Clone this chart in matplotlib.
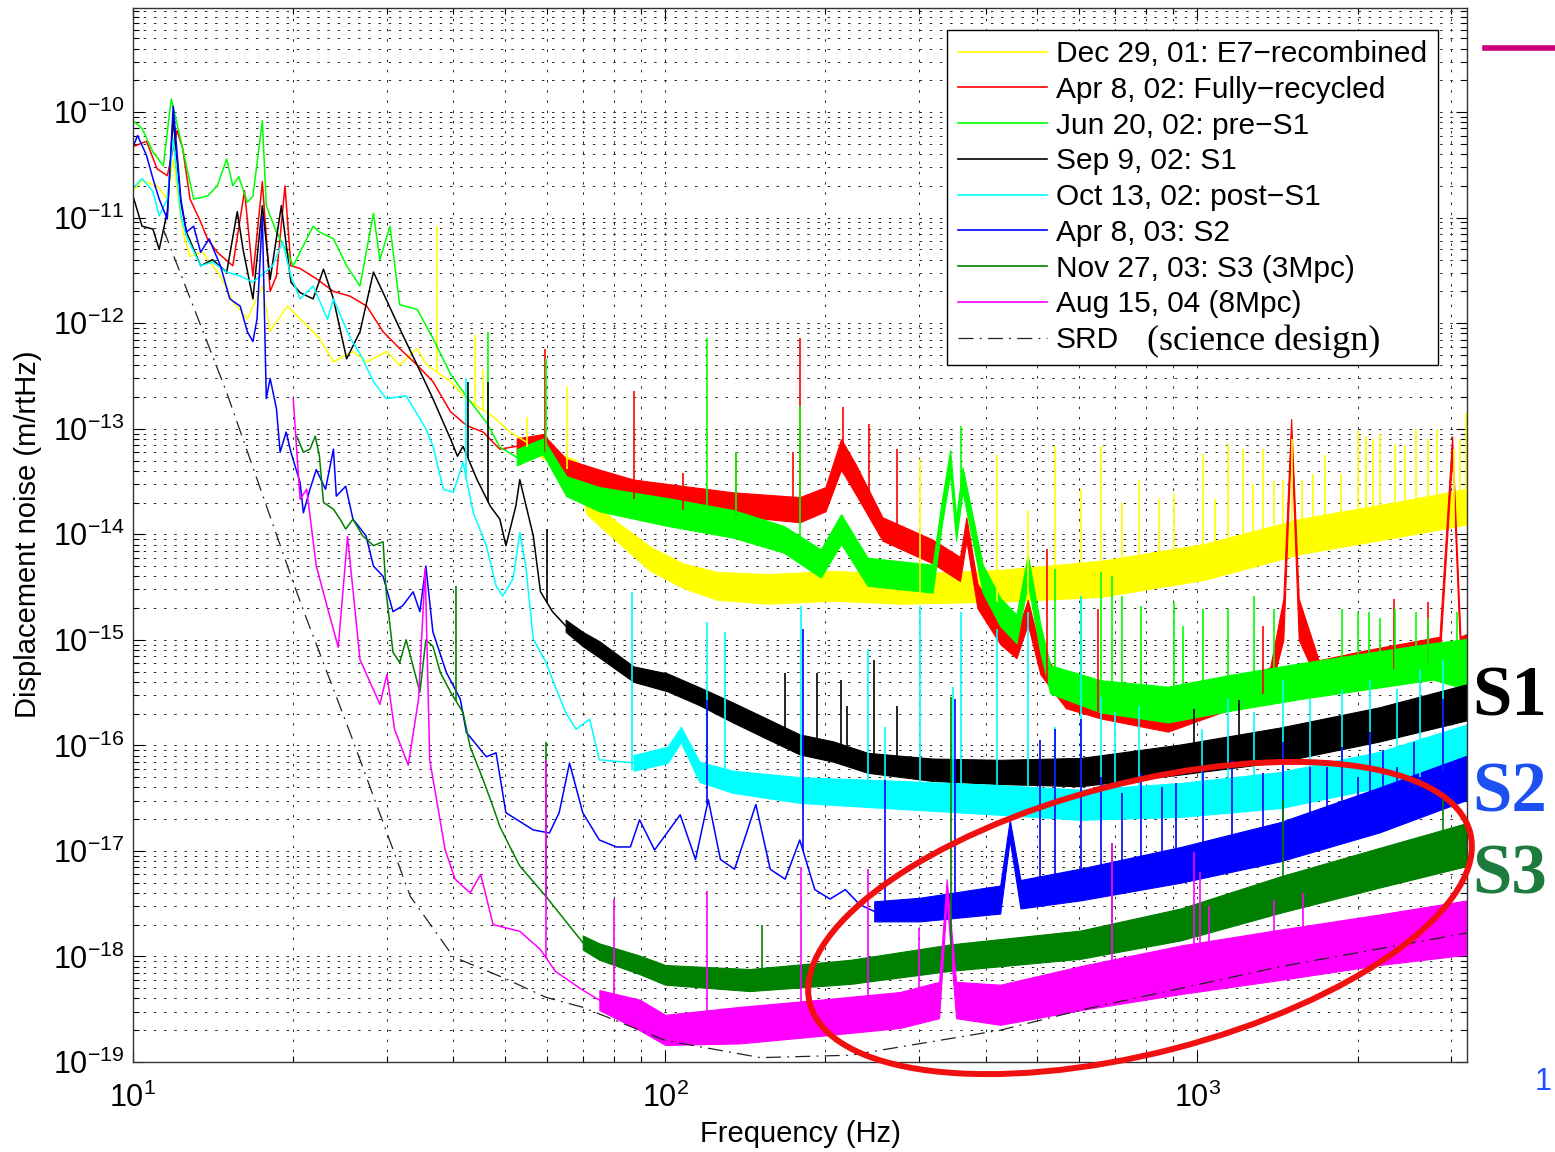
import matplotlib
matplotlib.use("Agg")
import matplotlib.pyplot as plt
from matplotlib.lines import Line2D
from matplotlib.patches import Ellipse
from matplotlib.ticker import LogLocator, NullFormatter, FixedLocator
import numpy as np

# ── Data (Hz, m/rtHz) ────────────────────────────────────────────────────────
# each curve: thin line at low f, noise band (lo/hi) above that, and line spikes

yel_line_f = [10, 10.4, 11.1, 11.6, 11.9, 12.4, 12.8, 13.5, 14.6, 15.4, 16.4, 17.5, 18.1, 19.5, 20.6,
              22.4, 23.8, 25.9, 27.5, 30, 31.7, 34.2, 35.7, 39.5, 42.4, 47.5, 51.1]
yel_line_v = [1.8e-11, 2.25e-11, 2.0e-11, 1.5e-11, 3.6e-11, 7.3e-12, 4.3e-12, 4.7e-12, 2.8e-12, 1.6e-12,
              1.1e-12, 2.25e-12, 8.4e-13, 1.45e-12, 1.1e-12, 7.2e-13, 4.3e-13, 5.4e-13, 4.3e-13, 5.4e-13,
              4.0e-13, 5.75e-13, 4.0e-13, 2.8e-13, 1.9e-13, 1.3e-13, 9.3e-14]
yel_band_f = [54.9, 60.6, 68.2, 71.2, 81.3, 93.8, 108, 125, 156, 207, 276, 426, 658, 1030, 1560, 2400, 3210]
yel_band_hi = [8.3e-14, 6.3e-14, 5.0e-14, 2.2e-14, 1.3e-14, 7.6e-15, 5.3e-15, 4.4e-15, 4.2e-15, 4.5e-15,
               4.2e-15, 4.6e-15, 5.6e-15, 8.1e-15, 1.4e-14, 2.05e-14, 2.7e-14]
yel_band_lo = [6.7e-14, 4.8e-14, 3.9e-14, 1.55e-14, 8.5e-15, 4.5e-15, 3.1e-15, 2.4e-15, 2.2e-15, 2.35e-15,
               2.2e-15, 2.3e-15, 2.55e-15, 3.7e-15, 6.5e-15, 9.5e-15, 1.24e-14]
yel_spike_f = [37.2, 44, 45.5, 54.9, 65.5, 301, 420, 481, 540, 603, 659, 720, 778, 846, 905, 1026, 1081,
               1140, 1216, 1270, 1330, 1390, 1450, 1505, 1575, 1650, 1740, 1860, 2000, 2070, 2140, 2200,
               2350, 2450, 2570, 2710, 2820, 3030, 3120, 3190]
yel_spike_v = [8.3e-12, 7.7e-13, 3.7e-13, 1.3e-13, 2.5e-13, 5.2e-14, 5.6e-14, 1.7e-14, 6.9e-14, 2.7e-14,
               6.9e-14, 2.0e-14, 3.3e-14, 2.15e-14, 2.4e-14, 5.75e-14, 2.15e-14, 7.2e-14, 6.4e-14, 3.0e-14,
               6.4e-14, 3.2e-14, 3.3e-14, 8.0e-14, 3.3e-14, 3.7e-14, 5.6e-14, 3.7e-14, 9.5e-14, 8.5e-14,
               8.0e-14, 9.0e-14, 7.2e-14, 6.9e-14, 1.0e-13, 8.0e-14, 1.0e-13, 6.4e-14, 8.0e-14, 1.4e-13]

red_line_f = [10, 10.6, 11.1, 11.6, 12.1, 12.4, 12.8, 13.4, 13.8, 14.4, 15.4, 16.2, 16.8, 17.5, 18.1,
              18.6, 19.3, 19.8, 20.6, 22.2, 23.8, 25.6, 27.5, 29.5, 31.7, 34.2, 36.6, 39.5, 42.4, 45.5, 48.9]
red_line_v = [4.7e-11, 5.3e-11, 2.9e-11, 2.5e-11, 6.7e-11, 4.5e-11, 1.5e-11, 9.1e-12, 6.3e-12, 4.7e-12,
              3.5e-12, 1.8e-11, 2.8e-12, 2.2e-11, 2.0e-12, 2.8e-12, 2.0e-11, 3.5e-12, 3.3e-12, 2.6e-12,
              2.0e-12, 1.8e-12, 1.45e-12, 8.3e-13, 5.75e-13, 4.0e-13, 2.8e-13, 1.45e-13, 1.07e-13, 9.3e-14, 6.4e-14]
red_band_f = [52.6, 58.9, 65.2, 75.2, 87.2, 101, 134, 179, 200, 214, 228, 256, 318, 358, 368, 386, 426,
              457, 480, 507, 566, 658, 880, 1166, 1370, 1450, 1500, 1550, 1690, 2080, 2850, 3010, 3120, 3210]
red_band_hi = [8.1e-14, 8.9e-14, 5.15e-14, 4.1e-14, 3.3e-14, 3.0e-14, 2.5e-14, 2.25e-14, 2.8e-14, 8.0e-14,
               4.6e-14, 1.45e-14, 8.9e-15, 6.1e-15, 1.45e-14, 3.4e-15, 1.55e-15, 1.14e-15, 2.4e-15, 8.0e-16,
               3.8e-16, 3.05e-16, 2.3e-16, 3.8e-16, 5.5e-16, 2.45e-15, 1.24e-13, 2.45e-15, 6.4e-16, 8.0e-16,
               1.07e-15, 8.5e-14, 1.07e-15, 1.14e-15]
red_band_lo = [5.75e-14, 6.3e-14, 3.3e-14, 2.7e-14, 2.15e-14, 1.75e-14, 1.5e-14, 1.3e-14, 1.65e-14, 4.1e-14,
               2.4e-14, 8.7e-15, 5.3e-15, 3.6e-15, 8.7e-15, 2.0e-15, 9.1e-16, 6.7e-16, 1.4e-15, 4.7e-16,
               2.25e-16, 1.8e-16, 1.35e-16, 2.25e-16, 3.25e-16, 1.0e-15, 8.0e-14, 1.0e-15, 3.8e-16, 4.7e-16,
               6.3e-16, 5.5e-14, 6.3e-16, 6.7e-16]
red_spike_f = [59.4, 87.2, 108, 136, 174, 179, 216, 241, 273, 522, 650, 1330, 2340, 2710]
red_spike_v = [5.75e-13, 2.3e-13, 3.8e-14, 6.0e-14, 6.0e-14, 7.2e-13, 1.6e-13, 1.12e-13, 6.4e-14, 7.3e-15,
               1.95e-15, 1.35e-15, 2.45e-15, 2.3e-15]

grn_line_f = [10, 10.4, 10.9, 11.4, 11.8, 12.4, 13.0, 13.8, 14.4, 15.0, 15.4, 15.8, 16.4, 16.8, 17.5,
              17.8, 18.6, 19.5, 20, 21.8, 22.4, 23.8, 25.2, 26.7, 28.3, 29.1, 30.4, 31.7, 34.2, 36.6,
              39.5, 42.4, 46.3, 48.9]
grn_line_v = [8.3e-11, 7.0e-11, 4.2e-11, 3.1e-11, 1.33e-10, 4.5e-11, 1.5e-11, 1.6e-11, 2.0e-11, 3.6e-11,
              2.0e-11, 2.45e-11, 1.4e-11, 1.6e-11, 8.3e-11, 1.3e-11, 7.3e-12, 4.7e-12, 3.5e-12, 8.3e-12,
              7.3e-12, 6.3e-12, 3.5e-12, 2.25e-12, 1.1e-11, 4.0e-12, 8.3e-12, 1.5e-12, 1.35e-12, 7.2e-13,
              3.3e-13, 2.0e-13, 1.12e-13, 6.7e-14]
grn_band_f = [52.6, 58.9, 65.2, 75.2, 101, 134, 167, 196, 214, 240, 318, 331, 343, 352, 362, 395, 426,
              457, 480, 507, 529, 658, 880, 1166, 1560, 2080, 2770, 3210]
grn_band_hi = [6.4e-14, 8.1e-14, 3.55e-14, 2.8e-14, 2.2e-14, 1.7e-14, 1.2e-14, 7.2e-15, 1.55e-14, 6.0e-15,
               5.15e-15, 2.1e-14, 6.3e-14, 1.45e-14, 4.3e-14, 5.15e-15, 2.5e-15, 1.73e-15, 6.4e-15, 1.39e-15,
               5.75e-16, 4.14e-16, 3.6e-16, 4.7e-16, 6.0e-16, 7.5e-16, 9.3e-16, 1.02e-15]
grn_band_lo = [4.5e-14, 5.75e-14, 2.3e-14, 1.65e-14, 1.2e-14, 9.3e-15, 6.7e-15, 3.9e-15, 8.1e-15, 3.25e-15,
               2.8e-15, 1.24e-14, 3.7e-14, 8.7e-15, 2.55e-14, 2.8e-15, 1.35e-15, 9.3e-16, 3.45e-15, 7.5e-16,
               3.1e-16, 2.05e-16, 1.65e-16, 2.15e-16, 2.75e-16, 3.4e-16, 4.2e-16, 3.4e-16]
grn_spike_f = [46.5, 59.7, 120, 136, 179, 360, 540, 603, 659, 690, 720, 785, 905, 940, 1026, 1140, 1278,
               1393, 1870, 2000, 2100, 2200, 2350, 2570, 2710, 3080]
grn_spike_v = [8.3e-13, 4.6e-13, 7.2e-13, 6.0e-14, 1.65e-13, 1.07e-13, 4.7e-15, 2.6e-15, 4.4e-15, 4.0e-15,
               2.6e-15, 2.1e-15, 2.3e-15, 1.35e-15, 1.95e-15, 1.95e-15, 2.6e-15, 1.95e-15, 1.95e-15, 1.85e-15,
               1.85e-15, 1.6e-15, 1.95e-15, 1.85e-15, 1.6e-15, 1.85e-15]

blk_line_f = [10, 10.4, 10.9, 11.2, 11.6, 11.9, 12.3, 12.6, 13.4, 14.1, 15.0, 15.7, 16.1, 16.8, 17.5,
              18.1, 19.0, 19.8, 20.6, 21.8, 22.8, 23.8, 25.2, 26.7, 28.3, 29.5, 31.7, 34.2, 36.6, 39.5,
              40.7, 41.7, 44.3, 46.9, 48.9, 50.2, 52.4, 53.3, 56.5, 58.3, 61.4]
blk_line_v = [1.6e-11, 8.3e-12, 7.8e-12, 5.0e-12, 1.14e-11, 8.7e-11, 1.4e-11, 7.3e-12, 3.5e-12, 4.0e-12,
              3.05e-12, 1.14e-11, 5.0e-12, 1.7e-12, 1.3e-11, 2.6e-12, 1.3e-11, 2.45e-12, 1.95e-12, 1.7e-12,
              3.25e-12, 1.7e-12, 4.6e-13, 8.3e-13, 3.05e-12, 1.95e-12, 8.9e-13, 4.0e-13, 1.93e-13, 8.0e-14,
              5.5e-14, 6.8e-14, 3.3e-14, 1.85e-14, 1.39e-14, 7.8e-15, 1.85e-14, 3.3e-14, 9.7e-15, 2.85e-15,
              1.85e-15]
blk_band_f = [65, 70, 75.2, 87.2, 101, 116, 134, 156, 179, 207, 240, 318, 426, 603, 930, 1434, 2200, 3210]
blk_band_hi = [1.55e-15, 1.19e-15, 9.7e-16, 5.6e-16, 4.8e-16, 3.55e-16, 2.55e-16, 1.77e-16, 1.27e-16,
               1.09e-16, 8.5e-17, 7.5e-17, 7.3e-17, 7.6e-17, 1.02e-16, 1.48e-16, 2.3e-16, 3.8e-16]
blk_band_lo = [1.19e-15, 8.7e-16, 6.8e-16, 4.0e-16, 3.25e-16, 2.4e-16, 1.65e-16, 1.14e-16, 8.2e-17,
               7.0e-17, 5.5e-17, 4.6e-17, 4.3e-17, 4.1e-17, 5.3e-17, 7.0e-17, 1.09e-16, 1.73e-16]
blk_spike_f = [42.6, 46.5, 60, 168, 193, 214, 220, 247, 273, 985, 1195]
blk_spike_v = [2.8e-13, 2.8e-13, 1.12e-14, 4.9e-16, 4.9e-16, 4.2e-16, 2.35e-16, 6.5e-16, 2.35e-16,
               2.2e-16, 2.7e-16]

cyn_line_f = [10, 10.4, 10.9, 11.2, 11.6, 11.9, 12.3, 12.6, 13.4, 14.1, 15.0, 15.9, 16.8, 18.3, 19.1,
              19.8, 20.6, 21.8, 23.2, 23.8, 25.6, 26.7, 28.3, 29.9, 32.6, 35.5, 36.6, 38.3, 40, 41.7,
              43.6, 46.1, 48.1, 49.5, 51.8, 53.3, 54.7, 56.5, 59.7, 61.4, 65, 68, 72.1, 75.2]
cyn_line_v = [1.9e-11, 2.35e-11, 1.77e-11, 1.04e-11, 1.5e-11, 5.6e-11, 1.04e-11, 6.7e-12, 3.5e-12, 3.8e-12,
              3.05e-12, 2.8e-12, 2.45e-12, 3.5e-12, 5.9e-12, 2.8e-12, 1.7e-12, 2.25e-12, 1.09e-12, 1.7e-12,
              7.2e-13, 5.15e-13, 2.8e-13, 1.93e-13, 2.05e-13, 1.0e-13, 6.9e-14, 2.67e-14, 2.5e-14, 4.8e-14,
              1.6e-14, 7.8e-15, 3.25e-15, 2.6e-15, 3.8e-15, 1.04e-14, 5.0e-15, 1.02e-15, 6.1e-16, 4.2e-16,
              2.05e-16, 1.42e-16, 1.77e-16, 7.3e-17]
cyn_band_f = [87.2, 101, 107, 116, 134, 179, 276, 426, 603, 930, 1434, 2200, 3210]
cyn_band_hi = [8.1e-17, 9.7e-17, 1.5e-16, 7.0e-17, 5.75e-17, 5.0e-17, 4.6e-17, 4.2e-17, 3.8e-17, 4.4e-17,
               5.6e-17, 8.7e-17, 1.58e-16]
cyn_band_lo = [5.75e-17, 6.8e-17, 1.07e-16, 4.5e-17, 3.55e-17, 2.85e-17, 2.5e-17, 2.2e-17, 1.97e-17,
               2.1e-17, 2.55e-17, 4.0e-17, 6.5e-17]
cyn_spike_f = [42.3, 86.5, 120, 129.5, 180, 240, 259, 301, 347, 360, 420, 481, 540, 603, 659, 700, 778,
               1020, 1140, 1278, 1450, 1630, 1870, 2110, 2370, 2620, 2890]
cyn_spike_v = [3.0e-13, 2.85e-15, 1.48e-15, 1.19e-15, 2.1e-15, 8.2e-16, 1.5e-16, 2.1e-15, 3.6e-16, 1.85e-15,
               1.27e-15, 1.85e-15, 1.5e-16, 2.6e-15, 2.9e-16, 2.05e-16, 2.35e-16, 1.42e-16, 2.75e-16,
               2.05e-16, 4.2e-16, 2.75e-16, 3.4e-16, 4.2e-16, 3.4e-16, 5.3e-16, 6.5e-16]

blu_line_f = [10, 10.2, 10.6, 10.9, 11.2, 11.6, 11.9, 12.3, 12.6, 13.0, 13.4, 13.9, 14.6, 15.2, 15.9,
              16.4, 16.8, 17.1, 17.5, 17.8, 18.1, 18.6, 18.9, 19.4, 19.8, 20.6, 20.9, 21.5, 22.1, 23,
              23.8, 24.1, 25.1, 25.9, 27.4, 28.3, 29.5, 30.8, 32.1, 33.6, 34.6, 35.5, 36.6, 38.8, 41.2,
              42.3, 46.1, 48.1, 50.2, 56.5, 60.6, 63.2, 66.1, 70, 75.2, 81, 86, 89.5, 95.5, 106.7,
              114, 120.5, 127, 135, 148, 157.5, 168, 179, 191, 204, 218, 232]
blu_line_v = [4.7e-11, 6.0e-11, 3.9e-11, 2.35e-11, 1.5e-11, 9.7e-12, 1.14e-10, 1.5e-11, 7.3e-12, 8.3e-12,
              4.7e-12, 6.3e-12, 3.5e-12, 1.7e-12, 1.45e-12, 8.3e-13, 6.7e-13, 1.09e-12, 1.04e-11, 1.93e-13,
              3.0e-13, 1.55e-13, 6.0e-14, 9.3e-14, 6.0e-14, 3.1e-14, 1.6e-14, 2.67e-14, 4.1e-14, 2.67e-14,
              6.4e-14, 2.3e-14, 2.85e-14, 1.39e-14, 9.7e-15, 5.0e-15, 4.0e-15, 1.85e-15, 2.1e-15, 2.85e-15,
              1.85e-15, 5.0e-15, 1.19e-15, 4.9e-16, 2.75e-16, 1.33e-16, 7.8e-17, 8.5e-17, 2.3e-17, 1.58e-17,
              1.48e-17, 2.3e-17, 6.8e-17, 2.3e-17, 1.27e-17, 1.09e-17, 1.09e-17, 1.97e-17, 1.02e-17, 2.2e-17,
              8.3e-18, 3.05e-17, 8.3e-18, 6.7e-18, 2.75e-17, 6.7e-18, 5.4e-18, 1.27e-17, 4.3e-18, 3.5e-18,
              4.3e-18, 3.1e-18]
blu_band_f = [247, 301, 426, 444, 465, 603, 930, 1434, 2200, 3210]
blu_band_hi = [3.33e-18, 3.6e-18, 4.7e-18, 1.97e-17, 5.3e-18, 6.8e-18, 1.09e-17, 1.88e-17, 4.0e-17, 8.0e-17]
blu_band_lo = [2.15e-18, 2.15e-18, 2.55e-18, 1.27e-17, 2.85e-18, 3.4e-18, 5.0e-18, 8.0e-18, 1.5e-17, 3.05e-17]
blu_spike_f = [120, 181.6, 259, 350, 507, 540, 603, 659, 723, 785, 859, 912, 1026, 1160, 1330, 1450,
               1630, 1750, 1870, 2000, 2110, 2230, 2370, 2550, 2890]
blu_spike_v = [2.7e-16, 1.27e-15, 4.7e-17, 2.75e-16, 1.13e-16, 1.42e-16, 1.77e-16, 5.0e-17, 3.55e-17,
               5.5e-17, 4.0e-17, 4.4e-17, 6.3e-17, 7.3e-17, 5.5e-17, 1.07e-16, 6.3e-17, 6.3e-17, 9.7e-17,
               5.0e-17, 1.33e-16, 9.1e-17, 6.3e-17, 1.07e-16, 2.75e-16]

dkg_line_f = [20.3, 20.9, 21.5, 22, 22.4, 22.8, 23.8, 24.5, 25.1, 25.9, 27, 28.3, 29.5, 29.9, 30.8,
              31.7, 32.6, 33.6, 34.6, 35.5, 36.6, 37.8, 39.5, 41.7, 43, 45.5, 47.5, 48.9, 51.1, 53.3, 59.7]
dkg_line_v = [8.5e-14, 6.0e-14, 6.4e-14, 8.5e-14, 5.5e-14, 2.0e-14, 1.73e-14, 1.39e-14, 1.12e-14, 1.39e-14,
              9.7e-15, 7.8e-15, 8.5e-15, 2.85e-15, 7.6e-16, 6.1e-16, 1.0e-15, 5.6e-16, 3.2e-16, 1.0e-15,
              8.7e-16, 4.9e-16, 3.2e-16, 2.05e-16, 9.7e-17, 4.7e-17, 2.6e-17, 1.7e-17, 1.09e-17, 7.2e-18, 3.7e-18]
dkg_band_f = [70, 75.2, 89.5, 100, 144, 223, 343, 603, 930, 1434, 2200, 3210]
dkg_band_hi = [1.58e-18, 1.33e-18, 1.02e-18, 8.3e-19, 7.6e-19, 9.3e-19, 1.3e-18, 1.76e-18, 2.85e-18,
               5.75e-18, 1.07e-17, 1.84e-17]
dkg_band_lo = [1.16e-18, 9.3e-19, 6.8e-19, 5.4e-19, 4.7e-19, 5.5e-19, 7.3e-19, 9.5e-19, 1.42e-18,
               2.6e-18, 4.5e-18, 7.2e-18]
dkg_spike_f = [40.5, 59.7, 152, 345, 690, 1447, 2890]
dkg_spike_v = [3.25e-15, 1.07e-16, 2.0e-18, 2.9e-16, 1.19e-17, 3.05e-17, 3.05e-17]

mag_line_f = [20, 20.6, 21.2, 22.1, 23.5, 24.3, 25.3, 26.7, 29.1, 30, 31.0, 32.9, 34.4, 35.4, 36.1,
              38.6, 40.3, 43, 45, 47.5, 53.3, 58.3, 62.2, 70]
mag_line_v = [1.93e-13, 2.15e-14, 2.67e-14, 5.0e-15, 1.58e-15, 8.5e-16, 9.5e-15, 6.5e-16, 2.45e-16, 4.7e-16,
              1.42e-16, 6.5e-17, 2.75e-16, 4.7e-15, 7.3e-17, 1.02e-17, 5.4e-18, 4.0e-18, 6.0e-18, 2.0e-18,
              1.73e-18, 1.16e-18, 7.2e-19, 4.8e-19]
mag_band_f = [75.2, 89.5, 100, 138, 196, 276, 327, 338, 352, 426, 603, 930, 1434, 2200, 3210]
mag_band_hi = [4.8e-19, 3.9e-19, 2.8e-19, 3.33e-19, 3.9e-19, 4.6e-19, 5.75e-19, 5.4e-18, 5.75e-19, 5.4e-19,
               8.1e-19, 1.27e-18, 1.8e-18, 2.5e-18, 3.4e-18]
mag_band_lo = [3.1e-19, 2.0e-19, 1.45e-19, 1.5e-19, 1.77e-19, 2.1e-19, 2.6e-19, 3.45e-18, 2.6e-19, 2.25e-19,
               3.1e-19, 4.4e-19, 6.0e-19, 8.3e-19, 1.04e-18]
mag_spike_f = [59.7, 80, 120, 180, 240, 300, 690, 985, 1010, 1050, 1390, 1580]
mag_spike_v = [7.3e-17, 3.5e-18, 4.2e-18, 7.0e-18, 6.7e-18, 1.85e-18, 1.19e-17, 9.7e-18, 6.3e-18, 3.0e-18,
               3.45e-18, 4.0e-18]

srd_f = [11.4, 15, 20, 20.9, 25.6, 33.2, 40, 49.6, 59.7, 70, 100, 151, 223, 426, 603, 1430, 3210]
srd_v = [7.8e-12, 2.2e-13, 3.5e-15, 1.9e-15, 1.3e-16, 3.7e-18, 9.9e-19, 6.3e-19, 4.1e-19, 3.3e-19,
         1.6e-19, 1.1e-19, 1.16e-19, 2.0e-19, 3.1e-19, 8.0e-19, 1.67e-18]

labels = ["Dec 29, 01: E7\u2212recombined", "Apr 8, 02: Fully\u2212recycled", "Jun 20, 02: pre\u2212S1",
          "Sep 9, 02: S1", "Oct 13, 02: post\u2212S1", "Apr 8, 03: S2", "Nov 27, 03: S3 (3Mpc)",
          "Aug 15, 04 (8Mpc)", "SRD"]

x_ticks = [10, 100, 1000]
y_ticks = [1e-19, 1e-18, 1e-17, 1e-16, 1e-15, 1e-14, 1e-13, 1e-12, 1e-11, 1e-10]

# ── Style ────────────────────────────────────────────────────────────────────
plt.rcParams.update({
    "font.family": ["Liberation Sans", "DejaVu Sans"],
    "mathtext.fontset": "custom",
    "mathtext.rm": "Liberation Sans",
    "mathtext.it": "Liberation Sans:italic",
    "mathtext.bf": "Liberation Sans:bold",
})

fig = plt.figure(figsize=(15.55, 11.52), dpi=100)
ax = fig.add_axes([133 / 1555, 1 - 1062 / 1152, 1334 / 1555, 1054.5 / 1152])
ax.set_xscale("log")
ax.set_yscale("log")


def draw_curve(color, line_f, line_v, band_f, band_lo, band_hi, spike_f, spike_v):
    lf, lv = np.array(line_f), np.array(line_v)
    bf, blo, bhi = np.array(band_f), np.array(band_lo), np.array(band_hi)
    mid = np.sqrt(blo[0] * bhi[0])
    ax.plot(np.r_[lf, bf[0]], np.r_[lv, mid], color=color, lw=1.1)
    ax.fill_between(bf, blo, bhi, facecolor=color, edgecolor=color, lw=0.8)
    # spikes rise from the lower edge of the curve
    all_f = np.log10(np.r_[lf, bf])
    all_lo = np.log10(np.r_[lv, blo])
    base = 10 ** np.interp(np.log10(spike_f), all_f, all_lo)
    ax.vlines(spike_f, base, spike_v, color=color, lw=1.2)


colors = ["#ffff00", "#ff0000", "#00ff00", "#000000", "#00ffff", "#0000ff", "#008000", "#ff00ff"]

draw_curve(colors[0], yel_line_f, yel_line_v, yel_band_f, yel_band_lo, yel_band_hi, yel_spike_f, yel_spike_v)
draw_curve(colors[1], red_line_f, red_line_v, red_band_f, red_band_lo, red_band_hi, red_spike_f, red_spike_v)
draw_curve(colors[2], grn_line_f, grn_line_v, grn_band_f, grn_band_lo, grn_band_hi, grn_spike_f, grn_spike_v)
draw_curve(colors[3], blk_line_f, blk_line_v, blk_band_f, blk_band_lo, blk_band_hi, blk_spike_f, blk_spike_v)
draw_curve(colors[4], cyn_line_f, cyn_line_v, cyn_band_f, cyn_band_lo, cyn_band_hi, cyn_spike_f, cyn_spike_v)
draw_curve(colors[5], blu_line_f, blu_line_v, blu_band_f, blu_band_lo, blu_band_hi, blu_spike_f, blu_spike_v)
draw_curve(colors[6], dkg_line_f, dkg_line_v, dkg_band_f, dkg_band_lo, dkg_band_hi, dkg_spike_f, dkg_spike_v)
draw_curve(colors[7], mag_line_f, mag_line_v, mag_band_f, mag_band_lo, mag_band_hi, mag_spike_f, mag_spike_v)

srd_style = (0, (12, 5, 1.5, 5))
ax.plot(srd_f, srd_v, color="#222222", lw=0.9, ls=srd_style)

# ── Axes ─────────────────────────────────────────────────────────────────────
ax.set_xlim(10, 3210)
ax.set_ylim(1e-19, 9.8e-10)
ax.xaxis.set_major_locator(FixedLocator(x_ticks))
ax.yaxis.set_major_locator(FixedLocator(y_ticks))
ax.xaxis.set_minor_locator(LogLocator(base=10, subs=np.arange(2, 10) * 1.0, numticks=100))
ax.yaxis.set_minor_locator(LogLocator(base=10, subs=np.arange(2, 10) * 1.0, numticks=200))
ax.xaxis.set_minor_formatter(NullFormatter())
ax.yaxis.set_minor_formatter(NullFormatter())

grid_ls = (0, (2.5, 8))
ax.grid(True, which="major", ls=grid_ls, color="#222222", lw=0.7)
ax.grid(True, which="minor", ls=grid_ls, color="#222222", lw=0.7)
ax.set_axisbelow(True)

ax.tick_params(which="both", direction="in", top=True, right=True, width=0.8)
ax.tick_params(which="major", length=8, labelsize=22)
ax.tick_params(which="minor", length=4)
ax.tick_params(axis="x", which="major", pad=15)
ax.tick_params(axis="y", which="major", pad=6)
for s in ax.spines.values():
    s.set_linewidth(1.0)
    s.set_color("#333333")

ax.set_xlabel("Frequency (Hz)", fontsize=21, labelpad=4)
ax.set_ylabel("Displacement noise (m/rtHz)", fontsize=21, labelpad=8)

# ── Legend ───────────────────────────────────────────────────────────────────
handles = [Line2D([], [], color=c, lw=1.2) for c in colors]
handles.append(Line2D([], [], color="#222222", lw=0.9, ls=srd_style))
leg = ax.legend(handles, labels, loc="upper right", bbox_to_anchor=(0.978, 0.979), borderaxespad=0,
                fontsize=21.5, handlelength=3.0, handletextpad=0.3, labelspacing=0.26, borderpad=0.35,
                fancybox=False, framealpha=1, edgecolor="black")
leg.get_frame().set_linewidth(1.0)

fig.text(1147 / 1555, 1 - 341 / 1152, "(science design)", fontsize=26, family="Liberation Serif",
         va="center", ha="left")

# ── Annotations outside the axes ─────────────────────────────────────────────
fig.add_artist(Ellipse((11.40, 2.34), 6.82, 2.70, angle=14.5, transform=fig.dpi_scale_trans,
                       fill=False, edgecolor="#f01010", lw=4.3))

fig.text(1472 / 1555, 1 - 715 / 1152, "S1", fontsize=51, fontweight="bold", family="Liberation Serif",
         color="black", va="baseline", ha="left")
fig.text(1472 / 1555, 1 - 812 / 1152, "S2", fontsize=51, fontweight="bold", family="Liberation Serif",
         color="#1c50f0", va="baseline", ha="left")
fig.text(1472 / 1555, 1 - 893 / 1152, "S3", fontsize=51, fontweight="bold", family="Liberation Serif",
         color="#1e7b3e", va="baseline", ha="left")
fig.text(1543 / 1555, 1 - 1082 / 1152, "1", fontsize=22, color="#2050ff", va="center", ha="center")
fig.add_artist(Line2D([1485 / 1555, 1.0], [1 - 48 / 1152] * 2, transform=fig.transFigure,
                      color="#c8007d", lw=4))

fig.savefig("out.png", dpi=100)
